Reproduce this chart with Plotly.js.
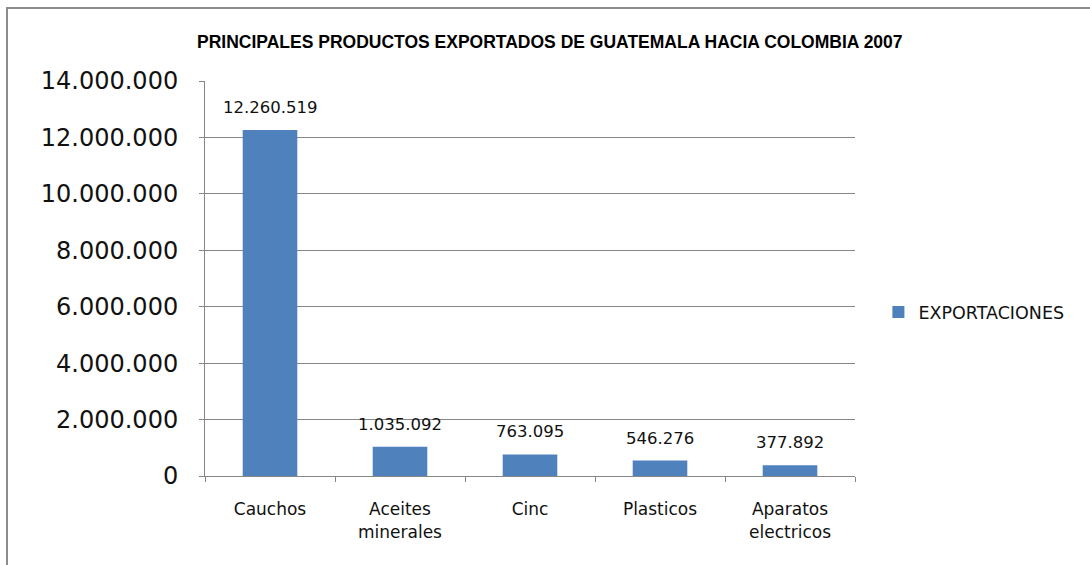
<!DOCTYPE html>
<html>
<head>
<meta charset="utf-8">
<script src="https://cdn.plot.ly/plotly-3.0.1.min.js"></script>
<style>html,body{margin:0;padding:0;background:#fff}#chart{width:1090px;height:565px}</style>
</head>
<body>
<div id="chart"></div>
<script>
var categories = ["Cauchos", "Aceites<br>minerales", "Cinc", "Plasticos", "Aparatos<br>electricos"];
var exportaciones = [12260519, 1035092, 763095, 546276, 377892];
var seriesName = "EXPORTACIONES";
var titleText = "PRINCIPALES PRODUCTOS EXPORTADOS DE GUATEMALA HACIA COLOMBIA 2007";
var yTicks = [0, 2000000, 4000000, 6000000, 8000000, 10000000, 12000000, 14000000];

var fmt = function (v) { return String(v).replace(/\B(?=(\d{3})+(?!\d))/g, "."); };

var trace = {
  type: "bar",
  x: categories,
  y: exportaciones,
  name: seriesName,
  marker: {color: "#4F81BD"},
  width: 0.42,
  showlegend: true,
  hoverinfo: "skip"
};

var annotations = categories.map(function (c, i) {
  return {
    x: c, y: exportaciones[i], xref: "x", yref: "y",
    text: fmt(exportaciones[i]), showarrow: false,
    yanchor: "bottom", yshift: 11,
    font: {family: "DejaVu Sans", size: 16.5, color: "#111"}
  };
});
annotations.push({
  xref: "paper", yref: "paper", x: 0.53, y: 1.099, xanchor: "center", yanchor: "middle",
  text: "<b>" + titleText + "</b>", showarrow: false,
  font: {family: "Liberation Sans", size: 17.5, color: "#000"}
});

var layout = {
  width: 1090, height: 565,
  margin: {l: 205, r: 235, t: 81, b: 89},
  paper_bgcolor: "#fff", plot_bgcolor: "#fff",
  separators: ",.",
  bargap: 0.58,
  showlegend: true,
  legend: {x: 1.036, y: 0.415, xanchor: "left", yanchor: "middle",
           font: {family: "DejaVu Sans", size: 17.5, color: "#111"}, bgcolor: "rgba(0,0,0,0)"},
  xaxis: {
    showline: true, linecolor: "#868686", linewidth: 1,
    ticks: "outside", tickson: "boundaries", ticklen: 5, tickcolor: "#868686",
    tickfont: {family: "DejaVu Sans", size: 17, color: "#111"},
    ticklabelstandoff: 18,
    showgrid: false, fixedrange: true
  },
  yaxis: {
    range: [0, 14000000],
    tickvals: yTicks,
    ticktext: yTicks.map(fmt),
    showline: true, linecolor: "#868686", linewidth: 1,
    ticks: "outside", ticklen: 5, tickcolor: "#868686",
    showgrid: true, gridcolor: "#868686", gridwidth: 1,
    zeroline: false,
    tickfont: {family: "DejaVu Sans", size: 24, color: "#111"},
    ticklabelstandoff: 16,
    fixedrange: true
  },
  annotations: annotations,
  shapes: [{
    type: "rect", xref: "paper", yref: "paper",
    x0: -0.3046, x1: 1.6, y0: -0.6, y1: 1.1848,
    line: {color: "#8c8c8c", width: 2}, layer: "below"
  }]
};

Plotly.newPlot("chart", [trace], layout, {displayModeBar: false, staticPlot: true});
</script>
</body>
</html>
